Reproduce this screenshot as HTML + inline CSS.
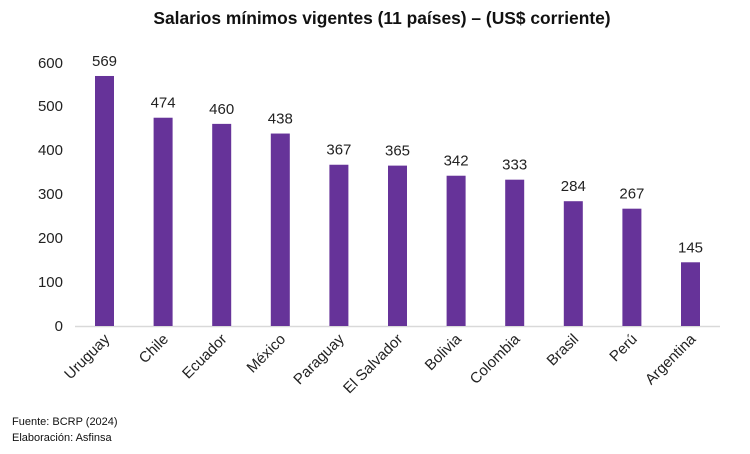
<!DOCTYPE html>
<html><head><meta charset="utf-8"><style>body{margin:0;background:#fff}</style></head>
<body>
<svg width="750" height="449" xmlns="http://www.w3.org/2000/svg" font-family="Liberation Sans, sans-serif">
<rect width="750" height="449" fill="#fff"/>
<text x="382" y="24" text-anchor="middle" font-size="17.4" font-weight="bold" fill="#111">Salarios mínimos vigentes (11 países) – (US$ corriente)</text>
<g font-size="15" fill="#222" text-anchor="end">
<text x="63" y="331">0</text><text x="63" y="287">100</text><text x="63" y="243">200</text><text x="63" y="199">300</text><text x="63" y="155">400</text><text x="63" y="111">500</text><text x="63" y="68">600</text>
</g>
<line x1="75" y1="326.5" x2="720" y2="326.5" stroke="#d9d9d9" stroke-width="1.5"/>
<g fill="#663399" id="bars"></g>
<g id="lbl" font-size="15" fill="#222" text-anchor="middle"></g>
<g id="cat" font-size="15" fill="#222" text-anchor="end"></g>
<text x="12" y="425" font-size="11" fill="#111">Fuente: BCRP (2024)</text>
<text x="12" y="441" font-size="11" fill="#111">Elaboración: Asfinsa</text>
<script>
var d=[["Uruguay",569],["Chile",474],["Ecuador",460],["México",438],["Paraguay",367],["El Salvador",365],["Bolivia",342],["Colombia",333],["Brasil",284],["Perú",267],["Argentina",145]];
var ns="http://www.w3.org/2000/svg",b=document.getElementById("bars"),l=document.getElementById("lbl"),c=document.getElementById("cat");
d.forEach(function(e,i){var cx=104.5+i*58.6,h=e[1]*0.4394,y=326-h;
var r=document.createElementNS(ns,"rect");r.setAttribute("x",cx-9.5);r.setAttribute("y",y);r.setAttribute("width",19);r.setAttribute("height",h);b.appendChild(r);
var t=document.createElementNS(ns,"text");t.setAttribute("x",cx);t.setAttribute("y",y-10);t.textContent=e[1];l.appendChild(t);
var s=document.createElementNS(ns,"text");s.setAttribute("transform","translate("+(cx+6)+",340) rotate(-45)");s.textContent=e[0];c.appendChild(s);});
</script>
</svg>
</body></html>
